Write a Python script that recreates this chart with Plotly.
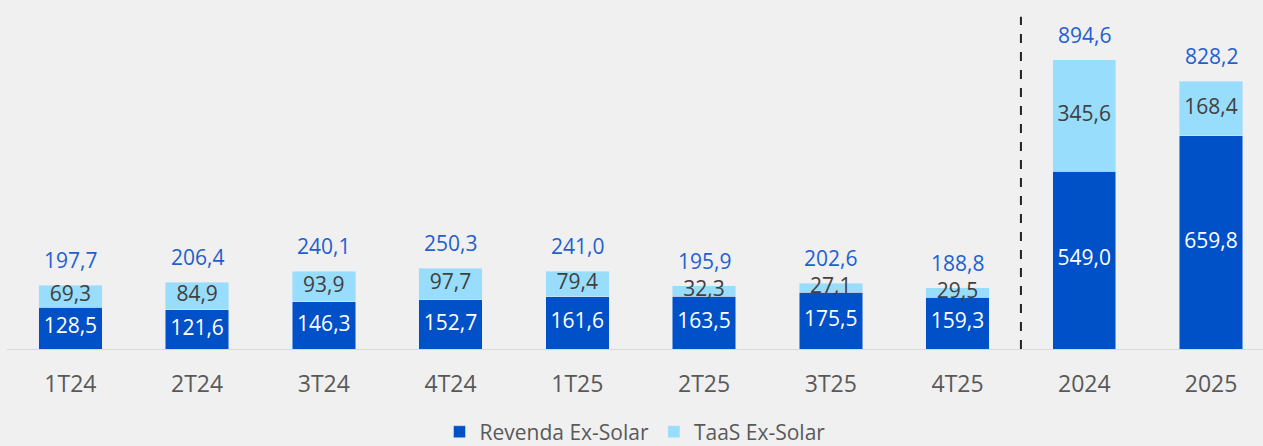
import plotly.graph_objects as go

categories = ["1T24", "2T24", "3T24", "4T24", "1T25", "2T25", "3T25", "4T25", "2024", "2025"]
revenda = [128.5, 121.6, 146.3, 152.7, 161.6, 163.5, 175.5, 159.3, 549.0, 659.8]
taas = [69.3, 84.9, 93.9, 97.7, 79.4, 32.3, 27.1, 29.5, 345.6, 168.4]
totals = [197.7, 206.4, 240.1, 250.3, 241.0, 195.9, 202.6, 188.8, 894.6, 828.2]

def fmt(v):
    return f"{v:.1f}".replace(".", ",")

FONT = "Open Sans"
DARK = "#0050c8"
LIGHT = "#99ddfc"
BG = "#f0f0f0"

xs = list(range(len(categories)))

fig = go.Figure()
fig.add_trace(go.Bar(x=xs, y=revenda, name="Revenda Ex-Solar", marker_color=DARK,
                     width=0.5, hoverinfo="skip"))
fig.add_trace(go.Bar(x=xs, y=taas, name="TaaS Ex-Solar", marker_color=LIGHT,
                     width=0.5, hoverinfo="skip"))

# segment labels
fig.add_trace(go.Scatter(x=xs, y=[r / 2 for r in revenda], mode="text",
                         text=[fmt(v) for v in revenda], showlegend=False,
                         textfont=dict(family=FONT, size=21, color="white"), hoverinfo="skip"))
fig.add_trace(go.Scatter(x=xs, y=[r + t / 2 for r, t in zip(revenda, taas)], mode="text",
                         text=[fmt(v) for v in taas], showlegend=False,
                         textfont=dict(family=FONT, size=21, color="#404040"), hoverinfo="skip"))

for i, t in zip(xs, totals):
    fig.add_annotation(x=i, y=t, text=fmt(t), showarrow=False, yanchor="bottom", yshift=9,
                       font=dict(family=FONT, size=21, color="#1f5fd0"))

fig.add_shape(type="line", xref="x", yref="paper", x0=7.5, x1=7.5, y0=0, y1=0.98,
              line=dict(color="#222222", width=2, dash="dash"))

fig.update_layout(
    width=1263, height=446,
    margin=dict(l=7, r=0, t=10, b=97, autoexpand=False),
    paper_bgcolor=BG, plot_bgcolor=BG,
    barmode="stack",
    font=dict(family=FONT, color="#595959"),
    xaxis=dict(range=[-0.5, 9.41], tickmode="array", tickvals=xs, ticktext=categories,
               showline=True, linecolor="#d9d9d9", linewidth=1,
               ticks="", tickfont=dict(size=23, color="#595959"), ticklabelstandoff=14,
               showgrid=False, zeroline=False, fixedrange=True),
    yaxis=dict(range=[0, 1048], visible=False, showgrid=False, zeroline=False),
    legend=dict(orientation="h", x=0.5, xanchor="center", y=-0.245, yanchor="middle",
                font=dict(size=21, color="#595959"), itemwidth=30, traceorder="normal"),
    showlegend=True,
)

fig.write_html("out.html", config={"displayModeBar": False},
               post_script="document.body.style.margin='0';document.body.style.background='#f0f0f0';")
